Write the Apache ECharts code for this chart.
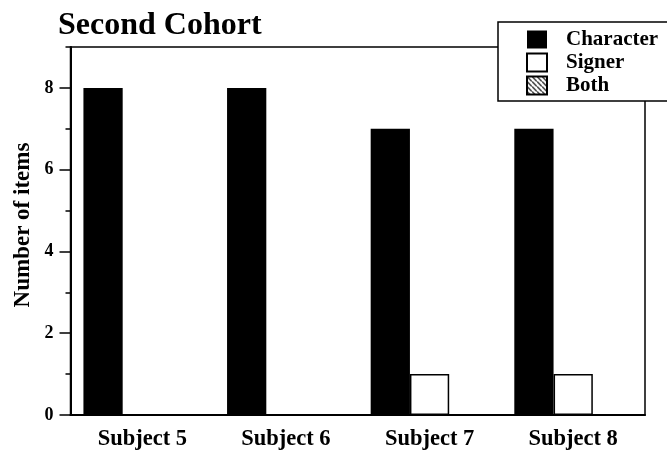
<!DOCTYPE html>
<html>
<head>
<meta charset="utf-8">
<script src="https://cdn.jsdelivr.net/npm/echarts@6/dist/echarts.min.js"></script>
<style>html,body{margin:0;padding:0;background:#fff}#c{width:667px;height:453px}</style>
</head>
<body>
<div id="c"></div>
<script>
const categories = ['Subject 5', 'Subject 6', 'Subject 7', 'Subject 8'];
const characterValues = [8, 8, 7, 7];
const signerValues = [0, 0, 1, 1];
const bothValues = [0, 0, 0, 0];
const yMajorTicks = [0, 2, 4, 6, 8];
const titleText = 'Second Cohort';
const yName = 'Number of items';

const FONT = '"Liberation Serif", "Times New Roman", serif';

function hatch() {
  const c = document.createElement('canvas');
  c.width = 5; c.height = 5;
  const g = c.getContext('2d');
  g.fillStyle = '#fff'; g.fillRect(0, 0, 5, 5);
  g.strokeStyle = '#000'; g.lineWidth = 1.2;
  g.beginPath(); g.moveTo(-1, -1); g.lineTo(6, 6); g.stroke();
  return { image: c, repeat: 'repeat' };
}

const chart = echarts.init(document.getElementById('c'));
chart.setOption({
  animation: false,
  backgroundColor: '#fff',
  title: {
    text: titleText, left: 53, top: 5,
    textStyle: { fontFamily: FONT, fontWeight: 'bold', fontSize: 32, color: '#000' }
  },
  legend: {
    orient: 'vertical', left: 498, top: 22,
    padding: [7, 30, 5, 28],
    backgroundColor: '#fff', borderColor: '#000', borderWidth: 1.5,
    itemWidth: 20, itemHeight: 18, itemGap: 2,
    icon: 'rect',
    z: 10,
    textStyle: { fontFamily: FONT, fontWeight: 'bold', fontSize: 21, color: '#000', padding: [0, 0, 0, 14] },
    data: ['Character', 'Signer', 'Both']
  },
  grid: {
    left: 70.5, right: 22, top: 47, bottom: 38,
    outerBoundsMode: 'none', containLabel: false,
    show: true, borderColor: '#000', borderWidth: 1.5, backgroundColor: 'transparent'
  },
  xAxis: {
    type: 'category', data: categories,
    axisLine: { lineStyle: { color: '#000', width: 2 } },
    axisTick: { show: false },
    axisLabel: { margin: 13, fontFamily: FONT, fontWeight: 'bold', fontSize: 22.5, color: '#000' },
    splitLine: { show: false }
  },
  yAxis: [{
    type: 'value', min: 0, max: 9, interval: 1,
    name: yName, nameLocation: 'middle', nameGap: 36,
    nameTextStyle: { fontFamily: FONT, fontWeight: 'bold', fontSize: 23, color: '#000', padding: [0, 0, 0, 12] },
    axisLine: { show: true, lineStyle: { color: '#000', width: 2 } },
    axisTick: { show: true, length: 5, lineStyle: { color: '#000', width: 1.5 } },
    axisLabel: { show: false },
    splitLine: { show: false }
  }, {
    type: 'value', min: 0, max: 9, interval: 1, position: 'left', offset: 0,
    axisLine: { show: false },
    axisTick: { show: true, length: 11, customValues: yMajorTicks, lineStyle: { color: '#000', width: 1.5 } },
    axisLabel: { show: true, margin: 17, customValues: yMajorTicks, fontFamily: FONT, fontWeight: 'bold', fontSize: 18, color: '#000' },
    splitLine: { show: false }
  }],
  series: [{
    name: 'Character', type: 'bar', data: characterValues, yAxisIndex: 0,
    barGap: 0, barCategoryGap: '18%',
    itemStyle: { color: '#000', borderColor: '#000', borderWidth: 0 }
  }, {
    name: 'Signer', type: 'bar', data: signerValues, yAxisIndex: 0,
    barGap: 0, barCategoryGap: '18%',
    itemStyle: { color: '#fff', borderColor: '#000', borderWidth: 1.5 }
  }, {
    name: 'Both', type: 'bar', data: bothValues, yAxisIndex: 0,
    barGap: 0, barCategoryGap: '18%',
    itemStyle: { color: hatch(), borderColor: '#000', borderWidth: 1, borderType: 'dotted' }
  }]
});
</script>
</body>
</html>
